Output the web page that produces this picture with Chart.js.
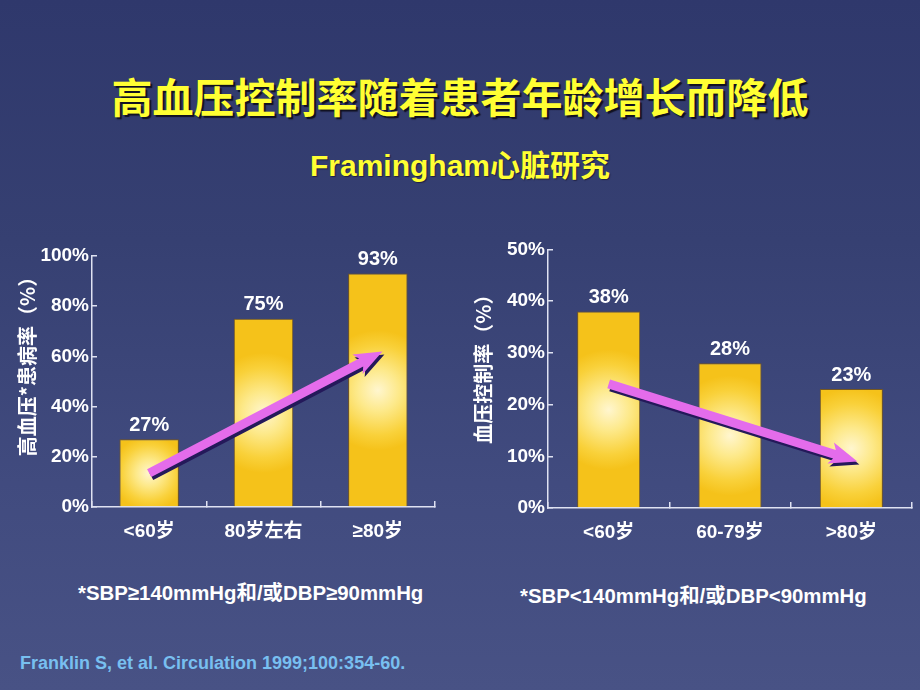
<!DOCTYPE html>
<html>
<head>
<meta charset="utf-8">
<script src="https://cdn.jsdelivr.net/npm/chart.js@4/dist/chart.umd.min.js"></script>
<style>
  html, body { margin: 0; padding: 0; }
  body {
    width: 920px; height: 690px; overflow: hidden; position: relative;
    background: linear-gradient(180deg, #2f386c 0%, #364072 35%, #414b7f 70%, #485285 100%);
    font-family: "Liberation Sans", Arial, "Noto Sans CJK SC", sans-serif;
  }
  .txt { position: absolute; white-space: nowrap; font-weight: bold; }
  #title {
    left: 0; width: 920px; top: 70px; text-align: center;
    font-family: "Noto Sans CJK SC", sans-serif; font-size: 41px; line-height: 50px;
    color: #ffff33; text-shadow: 2px 2px 1px #101020;
  }
  #sub {
    left: 0; width: 920px; top: 147px; text-align: center;
    font-family: "Liberation Sans", Arial, "Noto Sans CJK SC", sans-serif; font-size: 30px; line-height: 38px;
    color: #ffff33; text-shadow: 1px 1px 1px #202040;
  }
  .note {
    font-family: "Liberation Sans", Arial, "Noto Sans CJK SC", sans-serif;
    font-size: 20.4px; color: #ffffff; line-height: 24px;
  }
  #ref {
    left: 20px; top: 652px; font-family: "Liberation Sans", Arial, sans-serif;
    font-size: 18px; color: #78bff0; line-height: 22px;
  }
  .box { position: absolute; }
</style>
</head>
<body>
<div id="title" class="txt">高血压控制率随着患者年龄增长而降低</div>
<div id="sub" class="txt">Framingham心脏研究</div>

<div class="box" style="left:0px; top:230px; width:460px; height:320px;"><canvas id="leftChart"></canvas></div>
<div class="box" style="left:460px; top:230px; width:460px; height:320px;"><canvas id="rightChart"></canvas></div>

<div class="txt note" style="left:78px; top:581px;">*SBP≥140mmHg和/或DBP≥90mmHg</div>
<div class="txt note" style="left:520px; top:584px;">*SBP&lt;140mmHg和/或DBP&lt;90mmHg</div>
<div id="ref" class="txt">Franklin S, et al. Circulation 1999;100:354-60.</div>

<script>
// left chart: prevalence of hypertension by age
var leftLabels = ['<60岁', '80岁左右', '≥80岁'];
var leftValues = [27, 75, 93];
var leftArrow = [[0, 13.5], [2.04, 62]]; // [category index, %]

// right chart: blood pressure control rate by age
var rightLabels = ['<60岁', '60-79岁', '>80岁'];
var rightValues = [38, 28, 23];
var rightArrow = [[0, 24], [2.05, 9]];

var tickFont = { family: '"Liberation Sans", Arial, "Noto Sans CJK SC", sans-serif', size: 19, weight: 'bold' };
var axisColor = '#dfe2f2';

// yellow bar with light centre
function barFill(ctx) {
  var chart = ctx.chart;
  if (!chart.chartArea || ctx.dataIndex === undefined) return '#f7c51e';
  var xs = chart.scales.x, ys = chart.scales.y;
  var v = ctx.dataset.data[ctx.dataIndex];
  var cx = xs.getPixelForValue(ctx.dataIndex);
  var top = ys.getPixelForValue(v), base = ys.getPixelForValue(0);
  var cy = (top + base) / 2;
  var r = Math.min(60, Math.max(35, (base - top) * 0.55));
  var g = chart.ctx.createRadialGradient(cx, cy, 0, cx, cy, r);
  g.addColorStop(0, '#fff6cf');
  g.addColorStop(0.35, '#fde98a');
  g.addColorStop(0.75, '#f9d13a');
  g.addColorStop(1, '#f5c21a');
  return g;
}

// value labels above bars
var valueLabels = {
  id: 'valueLabels',
  afterDatasetsDraw: function (chart) {
    var ctx = chart.ctx;
    var meta = chart.getDatasetMeta(0);
    ctx.save();
    ctx.fillStyle = '#ffffff';
    ctx.font = 'bold 20px "Liberation Sans", Arial, sans-serif';
    ctx.textAlign = 'center';
    ctx.textBaseline = 'bottom';
    meta.data.forEach(function (bar, i) {
      ctx.fillText(chart.data.datasets[0].data[i] + '%', bar.x, bar.y - 4);
    });
    ctx.restore();
  }
};

// magenta trend arrow, given in data coordinates
var trendArrow = {
  id: 'trendArrow',
  afterDatasetsDraw: function (chart, args, opts) {
    var pts = opts.points;
    if (!pts) return;
    var xs = chart.scales.x, ys = chart.scales.y;
    var x1 = xs.getPixelForValue(pts[0][0]), y1 = ys.getPixelForValue(pts[0][1]);
    var x2 = xs.getPixelForValue(pts[1][0]), y2 = ys.getPixelForValue(pts[1][1]);
    var len = Math.hypot(x2 - x1, y2 - y1);
    var ang = Math.atan2(y2 - y1, x2 - x1);
    var hl = 24, hw = 11, sw = 4.5;
    var ctx = chart.ctx;
    ctx.save();
    ctx.translate(x1, y1);
    ctx.rotate(ang);
    ctx.beginPath();
    ctx.moveTo(0, -sw);
    ctx.lineTo(len - hl, -sw);
    ctx.lineTo(len - hl - 4, -hw);
    ctx.lineTo(len, 0);
    ctx.lineTo(len - hl - 4, hw);
    ctx.lineTo(len - hl, sw);
    ctx.lineTo(0, sw);
    ctx.closePath();
    ctx.shadowColor = '#24195a';
    ctx.shadowOffsetX = 2;
    ctx.shadowOffsetY = 3;
    ctx.shadowBlur = 0;
    ctx.fillStyle = '#e46ceb';
    ctx.fill();
    ctx.restore();
  }
};

function makeChart(id, labels, values, maxY, step, yTitle, arrow, yWidth, xHeight, padTop, padRight, titlePad) {
  return new Chart(document.getElementById(id).getContext('2d'), {
    type: 'bar',
    data: {
      labels: labels,
      datasets: [{
        data: values,
        backgroundColor: barFill,
        borderColor: 'rgba(125,90,20,0.9)',
        borderWidth: 1,
        barPercentage: 0.52,
        categoryPercentage: 1
      }]
    },
    plugins: [valueLabels, trendArrow],
    options: {
      responsive: true,
      maintainAspectRatio: false,
      animation: false,
      layout: { padding: { top: padTop, right: padRight, left: 0, bottom: 0 } },
      plugins: {
        legend: { display: false },
        tooltip: { enabled: false },
        trendArrow: { points: arrow }
      },
      scales: {
        x: {
          grid: { drawOnChartArea: false, drawTicks: true, tickLength: -6, color: axisColor, lineWidth: 1.5 },
          border: { display: true, color: axisColor, width: 1.5 },
          ticks: { color: '#ffffff', font: tickFont, padding: 19, maxRotation: 0 },
          afterFit: function (s) { s.height = xHeight; }
        },
        y: {
          min: 0,
          max: maxY,
          ticks: {
            stepSize: step, color: '#ffffff', font: tickFont, padding: 8,
            callback: function (v) { return v + '%'; }
          },
          grid: { drawOnChartArea: false, drawTicks: true, tickLength: -5, color: axisColor, lineWidth: 1.5 },
          border: { display: true, color: axisColor, width: 1.5 },
          title: {
            display: true, text: yTitle, color: '#ffffff',
            font: { family: '"Noto Sans CJK SC", sans-serif', size: 20, weight: 'bold' },
            padding: { top: titlePad, bottom: 0 }
          },
          afterFit: function (s) { s.width = yWidth; }
        }
      }
    }
  });
}

// leading ideographic spaces lift the rotated axis titles a little, as in the slide
makeChart('leftChart', leftLabels, leftValues, 100, 20, '\u3000\u3000高血压*患病率（%）', leftArrow, 92, 43, 26, 25, 15);
makeChart('rightChart', rightLabels, rightValues, 50, 10, '\u3000  血压控制率（%）', rightArrow, 88, 42, 18, 8, 11);
</script>
</body>
</html>
